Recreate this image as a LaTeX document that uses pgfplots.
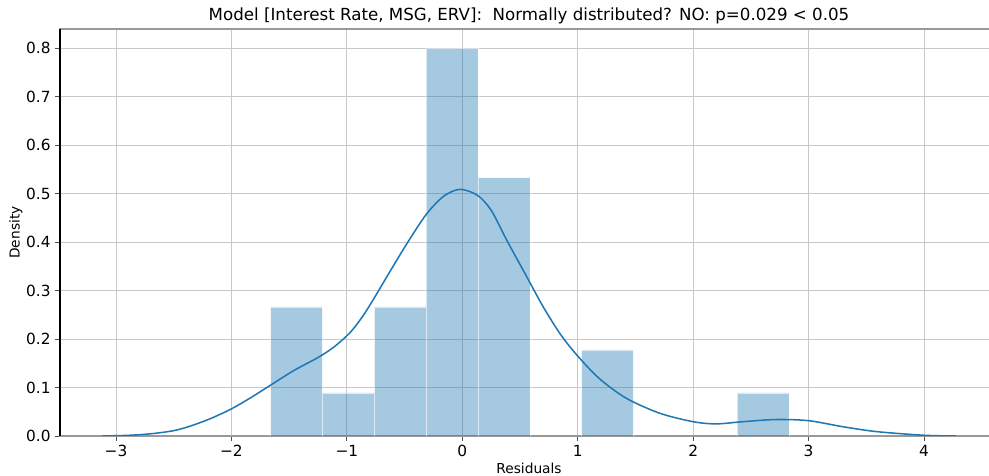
\documentclass[border=0pt]{standalone}
\usepackage{pgfplots}
\pgfplotsset{compat=1.18}
\usepackage{fontspec}
\setmainfont{DejaVu Sans}
\definecolor{kdeblue}{RGB}{31,119,180}
\definecolor{gridgray}{RGB}{200,200,200}
\begin{document}
\begin{tikzpicture}
\begin{axis}[
  scale only axis,
  width=703.5pt, height=305.25pt,
  xmin=-3.485, xmax=4.641,
  ymin=0, ymax=0.84,
  xtick={-3,-2,-1,0,1,2,3,4},
  xticklabels={−3,−2,−1,0,1,2,3,4},
  ytick={0,0.1,0.2,0.3,0.4,0.5,0.6,0.7,0.8},
  yticklabels={0.0,0.1,0.2,0.3,0.4,0.5,0.6,0.7,0.8},
  tick label style={font=\fontsize{11.5}{13}\selectfont},
  tick align=outside, tick pos=left,
  major tick length=3.5pt,
  tick style={black!70, line width=0.6pt},
  grid=major,
  major grid style={gridgray, line width=0.7pt},
  axis line style={gray!80, line width=0.9pt},
  xlabel={Residuals}, ylabel={Density},
  label style={font=\fontsize{10.3}{12}\selectfont},
  xlabel style={yshift=2pt},
  ylabel style={yshift=-4pt},
  title={Model [Interest Rate, MSG, ERV]:\ \ Normally distributed? NO: p=0.029 < 0.05},
  title style={font=\fontsize{12.5}{14}\selectfont, yshift=-6pt},
]
\addplot[ybar interval, fill=kdeblue, fill opacity=0.4, draw=white, draw opacity=0.6, line width=0.3pt] coordinates {
(-1.660,0.2667) (-1.211,0.0889) (-0.762,0.2667) (-0.313,0.8000) (0.136,0.5333)
(0.585,0) (1.034,0.1778) (1.483,0) (1.932,0) (2.381,0.0889) (2.830,0)
};
\addplot[kdeblue, line width=1.15pt, smooth, tension=0.5] coordinates {
(-3.12,0.0000) (-2.90,0.0013) (-2.70,0.0045) (-2.50,0.0110) (-2.35,0.0210)
(-2.18,0.0360) (-2.00,0.0560) (-1.84,0.0780) (-1.66,0.1050) (-1.46,0.1350)
(-1.25,0.1620) (-1.11,0.1840) (-0.97,0.2140) (-0.86,0.2480) (-0.77,0.2820)
(-0.62,0.3420) (-0.48,0.3970) (-0.31,0.4580) (-0.16,0.4950) (-0.02,0.5090)
(0.13,0.4970) (0.25,0.4660) (0.39,0.4020) (0.56,0.3280) (0.70,0.2670)
(0.85,0.2100) (1.00,0.1650) (1.19,0.1180) (1.42,0.0780) (1.71,0.0470)
(2.00,0.0295) (2.20,0.0250) (2.43,0.0295) (2.72,0.0340) (3.00,0.0316)
(3.30,0.0190) (3.59,0.0090) (4.00,0.0015) (4.28,0.0000)
};
\end{axis}
\draw[black, line width=0.9pt] (current axis.south west) -- (current axis.north west);
\pgfresetboundingbox
\path ([xshift=-45pt,yshift=-30pt]current axis.south west) rectangle ([xshift=696.75pt,yshift=21.75pt]current axis.north west);
\end{tikzpicture}
\end{document}
